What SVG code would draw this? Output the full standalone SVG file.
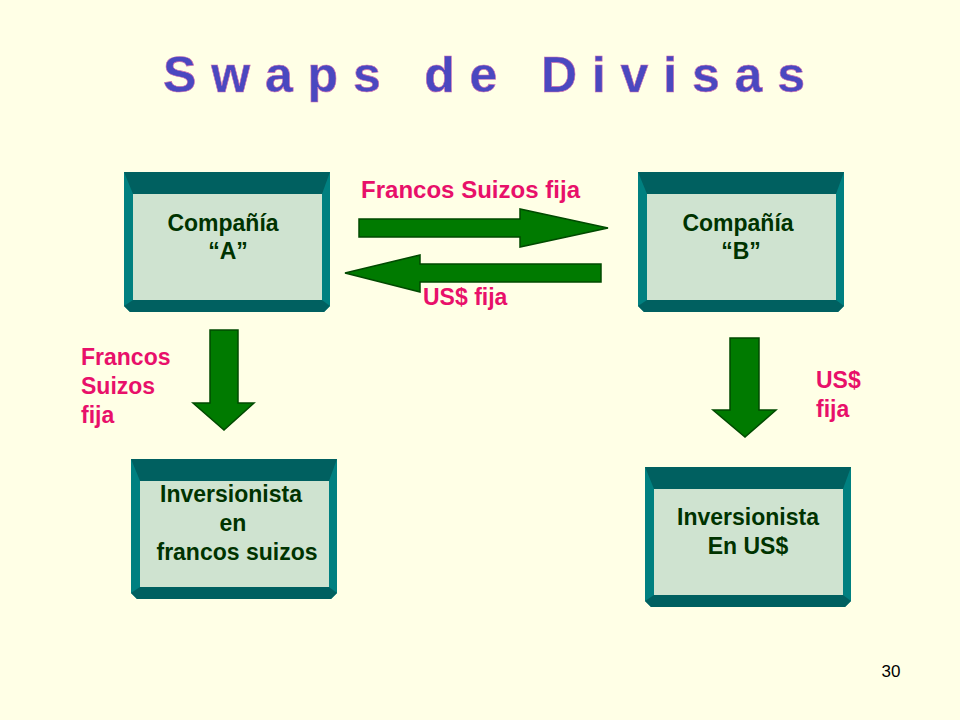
<svg xmlns="http://www.w3.org/2000/svg" width="960" height="720" viewBox="0 0 960 720">
<style>
.face{fill:#cfe3d0}.side{fill:#008080}.dark{fill:#006060}
.nt{font-family:"Liberation Sans",Arial,sans-serif;font-weight:bold;font-size:23px;fill:#003300;text-anchor:middle}
.lbl{font-family:"Liberation Sans",Arial,sans-serif;font-weight:bold;font-size:23px;fill:#e8106a}
.arr{fill:#007a00;stroke:#004a00;stroke-width:1.5}
</style>
<defs>
<g id="box">
<polygon class="side" points="0,0 206,0 206,134 200,140 6,140 0,134"/>
<polygon class="dark" points="0,0 206,0 198,22 9,22"/>
<polygon class="dark" points="9,128 198,128 206,134 200,140 6,140 0,134"/>
<rect class="face" x="9" y="22" width="189" height="106"/>
</g>
</defs>
<rect width="960" height="720" fill="#ffffe6"/>
<text x="163" y="92" textLength="642" lengthAdjust="spacing" font-family="'Liberation Sans',Arial,sans-serif" font-weight="bold" font-size="50" fill="#4a48c0" stroke="#d070b0" stroke-width="0.6">Swaps de Divisas</text>
<g id="nodeA"><use href="#box" x="124" y="172"/><text class="nt" x="223" y="231">Compañía</text><text class="nt" x="228" y="259">“A”</text></g>
<g id="nodeB"><use href="#box" x="638" y="172"/><text class="nt" x="738" y="231">Compañía</text><text class="nt" x="741" y="259">“B”</text></g>
<g id="nodeC"><use href="#box" x="131" y="459"/><text class="nt" x="231" y="502">Inversionista</text><text class="nt" x="233" y="531">en</text><text class="nt" x="237" y="560">francos suizos</text></g>
<g id="nodeD"><use href="#box" x="645" y="467"/><text class="nt" x="748" y="525">Inversionista</text><text class="nt" x="748" y="554">En US$</text></g>
<g id="connectors">
<polygon class="arr" points="359,219 520,219 520,209 608,228 520,247 520,237 359,237"/>
<polygon class="arr" points="601,264 420,264 420,255 345,273 420,292 420,282 601,282"/>
<polygon class="arr" points="210,330 238,330 238,403 254,403 224,430 193,403 210,403"/>
<polygon class="arr" points="730,338 759,338 759,410 776,410 745,437 713,410 730,410"/>
</g>
<text class="lbl" x="361" y="198" textLength="219" lengthAdjust="spacingAndGlyphs">Francos Suizos fija</text>
<text class="lbl" x="423" y="305">US$ fija</text>
<text class="lbl" x="81" y="365">Francos</text>
<text class="lbl" x="81" y="394">Suizos</text>
<text class="lbl" x="81" y="423">fija</text>
<text class="lbl" x="816" y="388">US$</text>
<text class="lbl" x="816" y="417">fija</text>
<text x="891" y="677" text-anchor="middle" font-family="'Liberation Sans',Arial,sans-serif" font-size="17" fill="#000">30</text>
</svg>
